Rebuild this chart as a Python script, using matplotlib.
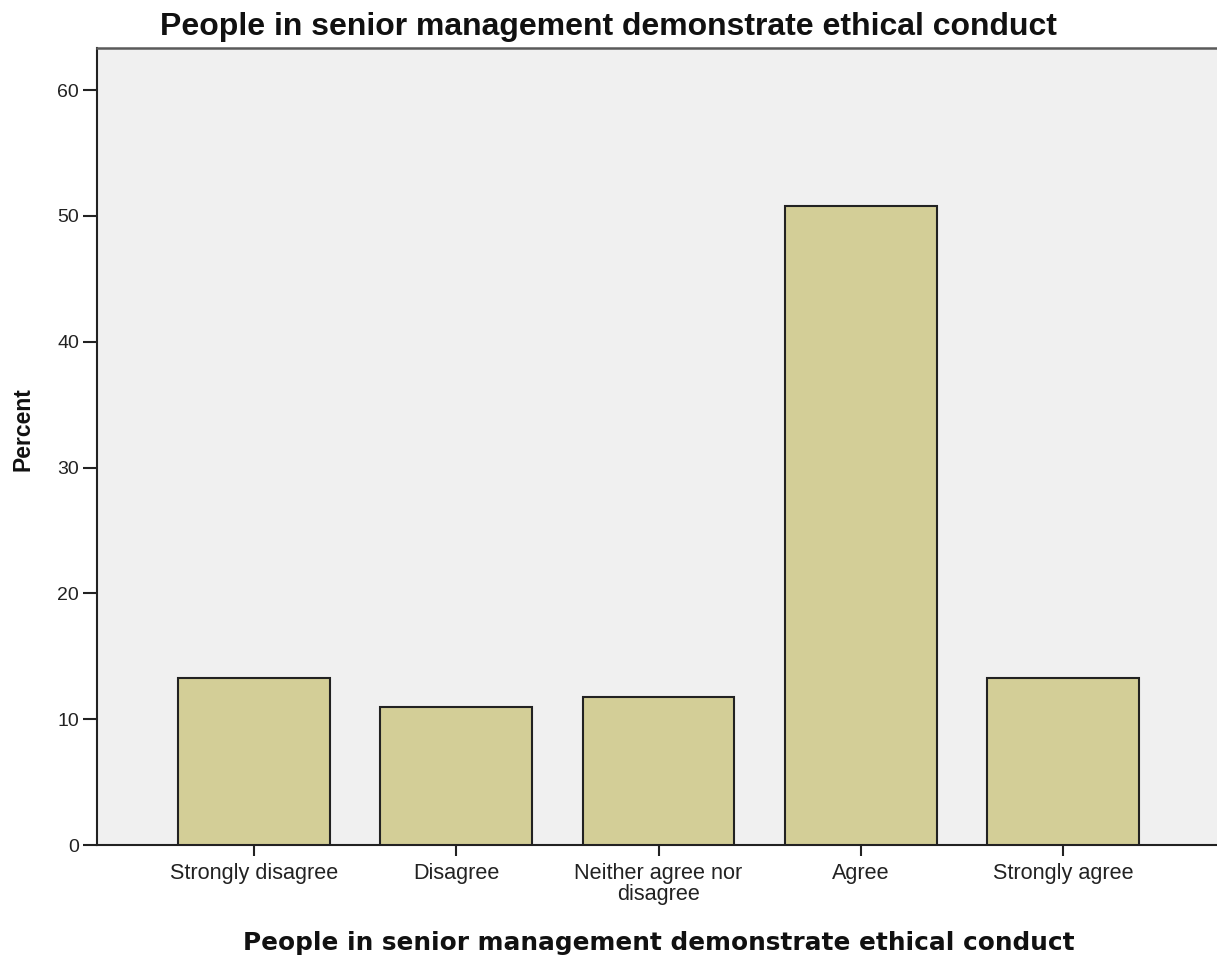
import matplotlib
matplotlib.use("Agg")
import matplotlib.pyplot as plt

W, H = 1217, 956

categories = ["Strongly disagree", "Disagree", "Neither agree nor\ndisagree",
              "Agree", "Strongly agree"]
percent = [13.25, 11.0, 11.8, 50.8, 13.25]
yticks = [0, 10, 20, 30, 40, 50, 60]

TITLE = "People in senior management demonstrate ethical conduct"
BAR_FILL = "#D3CE97"
BG = "#F0F0F0"
DARK = "#222222"

fig = plt.figure(figsize=(W / 100, H / 100), dpi=100)
ax = fig.add_axes([97 / W, 1 - 845 / H, 1 - 97 / W, (845 - 48) / H])
ax.set_facecolor(BG)

x = list(range(len(categories)))
ax.bar(x, percent, width=0.75, color=BAR_FILL, edgecolor=DARK, linewidth=1.5, zorder=3)

ax.set_xlim(-0.776, 4.761)
ax.set_ylim(0, 63.34)
ax.set_yticks(yticks)
ax.set_xticks(x)
ax.set_xticklabels(categories, fontsize=15.6, family="Liberation Sans", linespacing=0.98)
for lbl in ax.get_yticklabels():
    lbl.set_fontsize(14)
    lbl.set_family("Liberation Sans")
    lbl.set_color(DARK)
for lbl in ax.get_xticklabels():
    lbl.set_color(DARK)

ax.tick_params(axis="y", length=10, width=1.5, pad=3, color=DARK)
ax.tick_params(axis="x", length=8, width=1.5, pad=5, color=DARK)

for side in ("left", "bottom"):
    ax.spines[side].set_linewidth(1.5)
    ax.spines[side].set_color(DARK)
ax.spines["top"].set_linewidth(1.8)
ax.spines["top"].set_color("#5a5a5a")
ax.spines["right"].set_visible(False)

fig.text(0.5, 1 - 35 / H, TITLE, ha="center", va="baseline",
         fontsize=23, fontweight="bold", family="Liberation Sans", color="#111111")
fig.text(659 / W, 1 - 950 / H, TITLE, ha="center", va="baseline",
         fontsize=17.8, fontweight="bold", family="DejaVu Sans", color="#111111")
fig.text(23 / W, 1 - 429 / H, "Percent", ha="center", va="center", rotation=90,
         fontsize=16.5, fontweight="bold", family="Liberation Sans", color="#111111")

fig.savefig("out.png", dpi=100, facecolor="white")
